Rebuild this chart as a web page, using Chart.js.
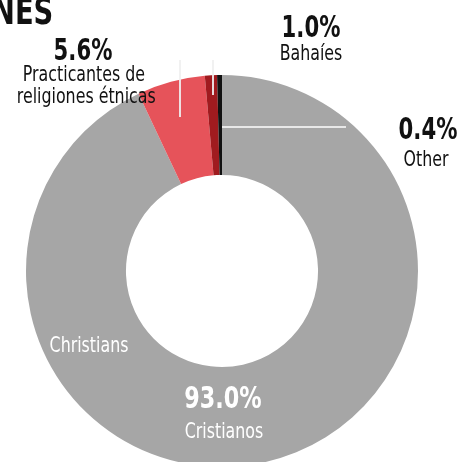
<!DOCTYPE html>
<html>
<head>
<meta charset="utf-8">
<script src="https://cdn.jsdelivr.net/npm/chart.js@4"></script>
<style>
    html, body { margin: 0; padding: 0; background: #fff; width: 464px; height: 462px; overflow: hidden; }
    #wrap { position: relative; width: 464px; height: 462px; }
    canvas { position: absolute; left: 0; top: 0; }
    .lbl {
        position: absolute;
        font-family: "Liberation Sans Narrow", "DejaVu Sans Condensed", sans-serif;
        color: #111;
        text-align: center;
        white-space: nowrap;
        line-height: 1;
        transform-origin: center top;
    }
    .num { font-weight: bold; font-size: 31px; }
    .txt { font-size: 22px; }
    .blanco { color: #fff; }
</style>
</head>
<body>
<div id="wrap">
    <canvas id="myChart" width="464" height="480"></canvas>
    <div class="lbl" style="left:-8px; top:-8px; font-size:38px; font-weight:bold; text-align:left; transform:scaleX(0.8); transform-origin:left top;">NES</div>

    <div class="lbl num" style="left:33px; width:100px; top:34px; transform:scaleX(0.76);">5.6%</div>
    <div class="lbl txt" style="left:0px; width:168px; top:63px; transform:scaleX(0.8);">Practicantes de<br>religiones étnicas</div>

    <div class="lbl num" style="left:261px; width:100px; top:11px; transform:scaleX(0.76);">1.0%</div>
    <div class="lbl txt" style="left:261px; width:100px; top:42px; transform:scaleX(0.8);">Bahaíes</div>

    <div class="lbl num" style="left:378px; width:100px; top:113px; transform:scaleX(0.76);">0.4%</div>
    <div class="lbl txt" style="left:376px; width:100px; top:148px; transform:scaleX(0.8);">Other</div>

    <div class="lbl txt blanco" style="left:39px; width:100px; top:334px; transform:scaleX(0.8);">Christians</div>
    <div class="lbl num blanco" style="left:173px; width:100px; top:382px; transform:scaleX(0.8);">93.0%</div>
    <div class="lbl txt blanco" style="left:174px; width:100px; top:420px; transform:scaleX(0.8);">Cristianos</div>
</div>
<script>
    // datos del grafico
    const religioes = ['Cristianos', 'Practicantes de religiones étnicas', 'Bahaíes', 'Other'];
    const porcentagens = [93.0, 5.6, 1.0, 0.4];
    const cores = ['#a6a6a6', '#e6535a', '#a01b1f', '#111111'];

    // linhas guia claras que saem dos rotulos
    const linhasGuia = {
        id: 'linhasGuia',
        afterDatasetsDraw(chart) {
            const arco = chart.getDatasetMeta(0).data[0];
            const cx = arco.x, cy = arco.y, r = arco.outerRadius;
            const c = chart.ctx;
            c.save();
            c.strokeStyle = 'rgba(240, 240, 240, 0.9)';
            c.lineWidth = 2;
            c.beginPath();
            c.moveTo(cx - 42, cy - r - 15);
            c.lineTo(cx - 42, cy - r + 42);
            c.moveTo(cx - 9, cy - r - 15);
            c.lineTo(cx - 9, cy - r + 20);
            c.moveTo(cx, cy - r + 52);
            c.lineTo(cx + 124, cy - r + 52);
            c.stroke();
            c.restore();
        }
    };

    const ctx = document.getElementById('myChart').getContext('2d');

    window.myChartInstance = new Chart(ctx, {
        type: 'doughnut',
        data: {
            labels: religioes,
            datasets: [{
                data: porcentagens,
                backgroundColor: cores,
                borderWidth: 0
            }]
        },
        options: {
            responsive: false,
            animation: false,
            cutout: '49%',
            layout: { padding: { left: 26, right: 46, top: 75, bottom: 13 } },
            plugins: {
                legend: { display: false },
                tooltip: { enabled: false },
                title: { display: false }
            }
        },
        plugins: [linhasGuia]
    });
</script>
</body>
</html>
